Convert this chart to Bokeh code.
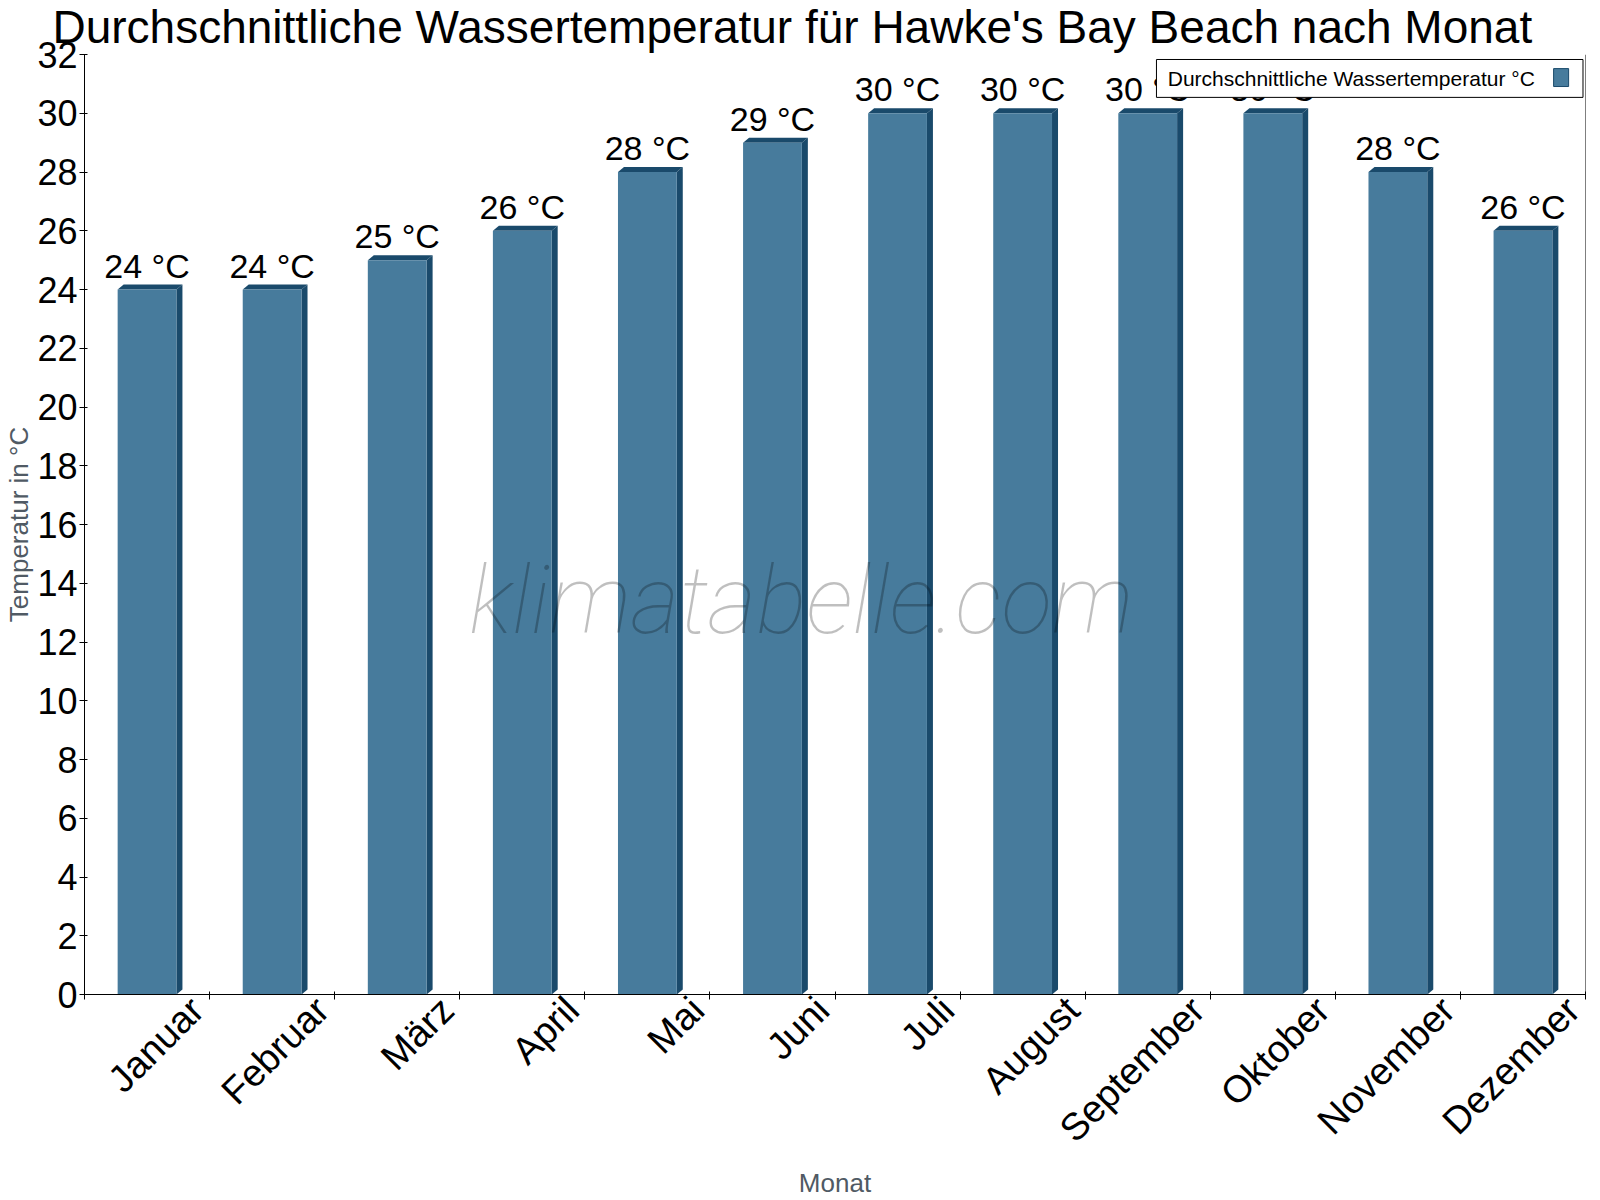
import math
from bokeh.plotting import figure
from bokeh.models import (FixedTicker, Range1d, Label, Span, LinearAxis)
from bokeh.core.properties import value
from bokeh.embed import file_html
from bokeh.resources import INLINE

# ---- data ----
months = ["Januar", "Februar", "März", "April", "Mai", "Juni", "Juli",
          "August", "September", "Oktober", "November", "Dezember"]
water_temp = [24, 24, 25, 26, 28, 29, 30, 30, 30, 30, 28, 26]
y_ticks = [0, 2, 4, 6, 8, 10, 12, 14, 16, 18, 20, 22, 24, 26, 28, 30, 32]
series_name = "Durchschnittliche Wassertemperatur °C"
title_text = "Durchschnittliche Wassertemperatur für Hawke's Bay Beach nach Monat"

FONT = "Liberation Sans"
FRONT = "#477b9c"
DARK = "#1a4a6b"

n = len(months)
centers = [i + 0.5 for i in range(n)]
label_pos = [c + 0.4 for c in centers]   # rotated labels end right of the bar centre
bar_w = 0.47
dx = 0.048   # 3D depth in x (data units)
dy = 0.17    # 3D depth in y (data units)

p = figure(width=1600, height=1200, output_backend="svg", toolbar_location=None,
           x_range=Range1d(0, n), y_range=Range1d(0, 32),
           min_border_left=84, min_border_right=15, min_border_top=53,
           min_border_bottom=204, x_axis_type=None, y_axis_type=None)
p.outline_line_color = None
p.background_fill_color = "white"

# title
p.title.text = title_text
p.title.text_font = FONT
p.title.text_font_size = "46px"
p.title.text_font_style = "normal"
p.title.text_color = "black"
p.title.align = "left"
p.title.vertical_align = "top"
p.title.offset = -32
p.title.standoff = 0

# y axis
yax = LinearAxis(ticker=FixedTicker(ticks=y_ticks))
yax.axis_label = "Temperatur in °C"
yax.axis_label_text_font = FONT
yax.axis_label_text_font_size = "26px"
yax.axis_label_text_font_style = "normal"
yax.axis_label_text_color = "#505a64"
yax.axis_label_standoff = 0
yax.major_label_text_font = FONT
yax.major_label_text_font_size = "36px"
yax.major_label_text_color = "black"
yax.major_tick_in = 3
yax.major_tick_out = 5
yax.minor_tick_line_color = None
yax.axis_line_color = "black"
yax.major_tick_line_color = "black"
yax.major_label_standoff = 2
p.add_layout(yax, "left")

# x axis: month labels, ticks at category boundaries
xax = LinearAxis(ticker=FixedTicker(ticks=label_pos, minor_ticks=list(range(n + 1))))
xax.major_label_overrides = {c: m for c, m in zip(label_pos, months)}
xax.major_label_orientation = math.pi / 4
xax.major_tick_in = 0
xax.major_tick_out = 0
xax.minor_tick_in = 3
xax.minor_tick_out = 5
xax.minor_tick_line_color = "black"
xax.axis_line_color = "black"
xax.major_label_text_font = FONT
xax.major_label_text_font_size = "38px"
xax.major_label_text_color = "black"
xax.major_label_standoff = 4
xax.axis_label = "Monat"
xax.axis_label_text_font = FONT
xax.axis_label_text_font_size = "26px"
xax.axis_label_text_font_style = "normal"
xax.axis_label_text_color = "#505a64"
xax.axis_label_standoff = 0
p.add_layout(xax, "below")

# grid
p.ygrid.ticker = FixedTicker(ticks=y_ticks)
p.ygrid.grid_line_color = "#c8c8c8"
p.ygrid.grid_line_dash = "3 3"
p.xgrid.grid_line_color = None

# right border line
p.add_layout(Span(location=n, dimension="height", line_color="black", line_width=1))

# 3D bars: side and top faces
side_xs, side_ys, top_xs, top_ys = [], [], [], []
for c, v in zip(centers, water_temp):
    l, r = c - bar_w / 2, c + bar_w / 2
    side_xs.append([r, r + dx, r + dx, r])
    side_ys.append([0, dy, v + dy, v])
    top_xs.append([l, l + dx, r + dx, r])
    top_ys.append([v, v + dy, v + dy, v])
p.patches(side_xs, side_ys, fill_color=DARK, line_color=None)
p.patches(top_xs, top_ys, fill_color=DARK, line_color=None)
p.vbar(x=centers, top=water_temp, width=bar_w, fill_color=FRONT, line_color=None)

# value labels
p.text(x=centers, y=[v + dy for v in water_temp],
       text=[f"{v} °C" for v in water_temp],
       text_font=value(FONT), text_font_size="34px", text_color="black",
       text_align="center", text_baseline="bottom")

# watermark
p.add_layout(Label(x=5.73, y=13.4, text="klimatabelle.com",
                   text_font="Roboto Thin", text_font_style="italic",
                   text_font_size="94px", text_color="black", text_alpha=0.25,
                   text_align="center", text_baseline="middle"))

# custom legend (swatch on the right)
p.quad(left=[8.57], right=[11.98], bottom=[30.54], top=[31.83],
       fill_color="white", line_color="black", line_width=1)
p.quad(left=[11.745], right=[11.865], bottom=[30.91], top=[31.52],
       fill_color=FRONT, line_color=DARK, line_width=1)
p.add_layout(Label(x=8.66, y=31.18, text=series_name, text_font=FONT,
                   text_font_size="21px", text_color="black",
                   text_align="left", text_baseline="middle"))

open("out.html", "w").write(file_html(p, INLINE))
